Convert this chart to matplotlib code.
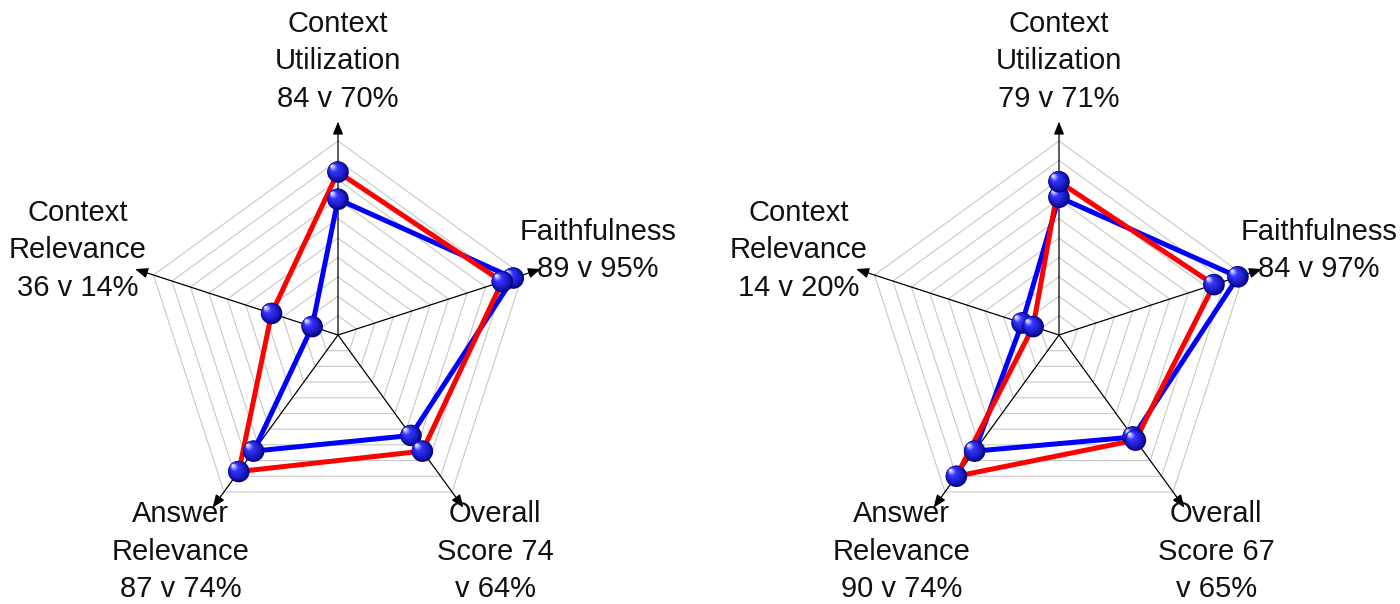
import numpy as np
import matplotlib
matplotlib.use("Agg")
import matplotlib.pyplot as plt
import matplotlib.transforms as mtransforms
from matplotlib.colors import to_rgb

# ---------------- data ----------------
categories = ["Context Utilization", "Faithfulness", "Overall Score",
              "Answer Relevance", "Context Relevance"]
label_templates = ["Context\nUtilization\n{r} v {b}%",
                   "Faithfulness\n{r} v {b}%",
                   "Overall\nScore {r}\nv {b}%",
                   "Answer\nRelevance\n{r} v {b}%",
                   "Context\nRelevance\n{r} v {b}%"]
left_red = [84, 89, 74, 87, 36]
left_blue = [70, 95, 64, 74, 14]
right_red = [79, 84, 67, 90, 14]
right_blue = [71, 97, 65, 74, 20]
grid_levels = [10, 20, 30, 40, 50, 60, 70, 80, 90, 100]
axis_max = 110
label_radii = [141, 141, 138, 138, 141]

# ---------------- style ----------------
W, H = 1400, 604
DPI = 100
PX_PER_UNIT = 1.94
plt.rcParams['font.family'] = ['Liberation Sans', 'DejaVu Sans']

fig = plt.figure(figsize=(W / DPI, H / DPI), dpi=DPI)

angles = np.deg2rad(90 - 72 * np.arange(len(categories)))


def sphere_markers(ax, x, y, zorder):
    d = 15.5  # diameter in points
    n = 16
    dark = np.array(to_rgb('#000080'))
    mid = np.array(to_rgb('#3535ff'))
    light = np.array(to_rgb('#dcdcff'))
    for i in range(n):
        t = i / (n - 1)
        if t < 0.7:
            c = dark + (mid - dark) * (t / 0.7) ** 0.7
        else:
            c = mid + (light - mid) * ((t - 0.7) / 0.3)
        size = d * (1 - 0.88 * t)
        off = 0.27 * d * t
        tr = ax.transData + mtransforms.ScaledTranslation(-off / 72, off / 72,
                                                           fig.dpi_scale_trans)
        ax.scatter(x, y, s=size ** 2, color=c, edgecolors='none',
                   transform=tr, zorder=zorder + i * 0.01)


def radar(cx_px, red, blue):
    half_w = 340
    ax = fig.add_axes([(cx_px - half_w) / W, 0, 2 * half_w / W, 1])
    cy_from_bottom = H - 335
    ax.set_xlim(-half_w / PX_PER_UNIT, half_w / PX_PER_UNIT)
    ax.set_ylim(-cy_from_bottom / PX_PER_UNIT, (H - cy_from_bottom) / PX_PER_UNIT)
    ax.axis('off')

    ca, sa = np.cos(angles), np.sin(angles)
    # grid
    for lv in grid_levels:
        gx = np.append(lv * ca, lv * ca[0])
        gy = np.append(lv * sa, lv * sa[0])
        ax.plot(gx, gy, color='#c8c8c8', lw=0.8, zorder=1)
    # axes with arrows
    for a in angles:
        ax.annotate('', xy=(axis_max * np.cos(a), axis_max * np.sin(a)),
                    xytext=(0, 0),
                    arrowprops=dict(arrowstyle='-|>,head_length=0.55,head_width=0.22',
                                    color='black', lw=0.9, mutation_scale=14,
                                    shrinkA=0, shrinkB=0),
                    zorder=2)
    # series
    for vals, col, z in ((blue, '#0000ff', 3), (red, '#ff0000', 4)):
        v = np.array(vals, dtype=float)
        ax.plot(np.append(v * ca, v[0] * ca[0]), np.append(v * sa, v[0] * sa[0]),
                color=col, lw=3.6, zorder=z, solid_joinstyle='miter')
    for vals, z in ((blue, 5), (red, 6)):
        v = np.array(vals, dtype=float)
        sphere_markers(ax, v * ca, v * sa, z)
    # labels
    for a, tmpl, r, b, lr in zip(angles, label_templates, red, blue, label_radii):
        ax.text(lr * np.cos(a), lr * np.sin(a),
                tmpl.format(r=r, b=b), ha='center', va='center',
                fontsize=21, linespacing=1.42, color='#111111', zorder=10,
                clip_on=False)
    return ax


radar(338, left_red, left_blue)
radar(1059, right_red, right_blue)

fig.savefig('out.png', dpi=DPI, facecolor='white')
